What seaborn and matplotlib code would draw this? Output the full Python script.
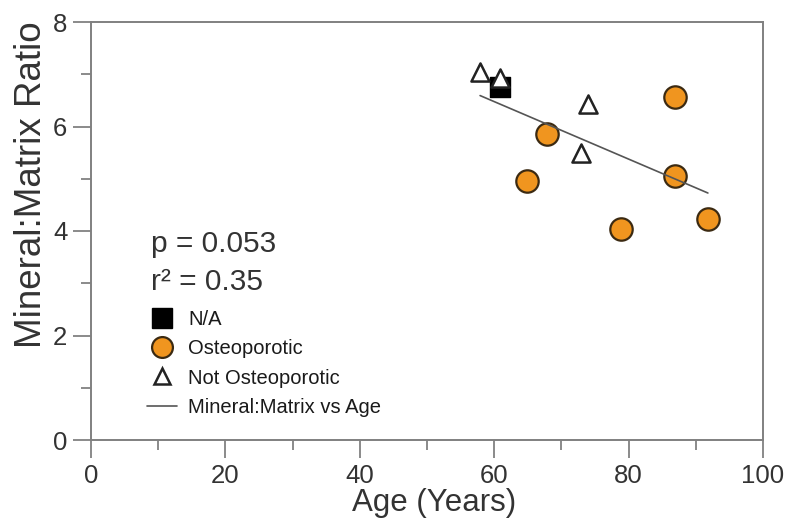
import numpy as np
import pandas as pd
import matplotlib
matplotlib.use("Agg")
import matplotlib.pyplot as plt
import seaborn as sns
from matplotlib.ticker import MultipleLocator
from matplotlib.lines import Line2D

# ---- data ----
na_age = [60.9]
na_ratio = [6.75]

osteo_age = [86.9, 67.9, 64.9, 86.9, 78.9, 91.8]
osteo_ratio = [6.56, 5.85, 4.95, 5.05, 4.03, 4.23]

notosteo_age = [57.9, 60.8, 74.0, 72.9]
notosteo_ratio = [7.04, 6.93, 6.44, 5.50]

p_text = "p = 0.053"
r2_text = "r\u00b2 = 0.35"
x_ticks = [0, 20, 40, 60, 80, 100]
y_ticks = [0, 2, 4, 6, 8]

sns.set_theme(style="white")
plt.rcParams["font.family"] = ["Liberation Sans", "DejaVu Sans"]

fig = plt.figure(figsize=(7.9, 5.23), dpi=100)
ax = fig.add_axes([91 / 790, 1 - 440 / 523, (763 - 91) / 790, (440 - 22) / 523])

all_age = na_age + osteo_age + notosteo_age
all_ratio = na_ratio + osteo_ratio + notosteo_ratio
df_all = pd.DataFrame({"age": all_age, "ratio": all_ratio})

sns.scatterplot(x=na_age, y=na_ratio, marker="s", s=215, color="black",
                edgecolor="black", linewidth=1, ax=ax, zorder=3)
sns.scatterplot(x=osteo_age, y=osteo_ratio, marker="o", s=260, color="#F0951F",
                edgecolor="#3b2a12", linewidth=1.6, ax=ax, zorder=3)
sns.regplot(data=df_all, x="age", y="ratio", scatter=False, ci=None, ax=ax,
            color="#555555", line_kws={"linewidth": 1.2, "zorder": 4})
sns.scatterplot(x=notosteo_age, y=notosteo_ratio, marker="^", s=170, color="white",
                edgecolor="#222222", linewidth=1.8, ax=ax, zorder=5)

handles = [
    Line2D([], [], marker="s", linestyle="none", markersize=14.5,
           markerfacecolor="black", markeredgecolor="black"),
    Line2D([], [], marker="o", linestyle="none", markersize=15,
           markerfacecolor="#F0951F", markeredgecolor="#3b2a12", markeredgewidth=1.6),
    Line2D([], [], marker="^", linestyle="none", markersize=12,
           markerfacecolor="white", markeredgecolor="#222222", markeredgewidth=1.8),
    Line2D([], [], color="#555555", linewidth=1.2),
]
labels = ["N/A", "Osteoporotic", "Not Osteoporotic", "Mineral:Matrix vs Age"]
leg = ax.legend(handles, labels, loc="upper left", bbox_to_anchor=(0.083, 0.312),
                frameon=False, fontsize=14.5, handlelength=1.5, handletextpad=0.55,
                labelspacing=0.52, borderpad=0, borderaxespad=0)
for t in leg.get_texts():
    t.set_color("#1a1a1a")

ax.text(0.09, 0.45, p_text, transform=ax.transAxes, fontsize=21.5,
        va="baseline", ha="left", color="#333333")
ax.text(0.09, 0.359, r2_text, transform=ax.transAxes, fontsize=21.5,
        va="baseline", ha="left", color="#333333")

ax.set_xlim(0, 100)
ax.set_ylim(0, 8)
ax.set_xticks(x_ticks)
ax.set_yticks(y_ticks)
ax.xaxis.set_minor_locator(MultipleLocator(10))
ax.yaxis.set_minor_locator(MultipleLocator(1))
ax.tick_params(which="major", direction="out", length=13, width=1.2,
               color="#777777", labelsize=18.5, labelcolor="#333333", pad=4,
               bottom=True, left=True)
ax.tick_params(which="minor", direction="out", length=7, width=1.2,
               color="#777777", bottom=True, left=True)

for sp in ax.spines.values():
    sp.set_visible(True)
    sp.set_color("#808080")
    sp.set_linewidth(1.4)

ax.set_xlabel("Age (Years)", fontsize=22.5, color="#333333")
ax.set_ylabel("Mineral:Matrix Ratio", fontsize=26.5, color="#333333")
ax.xaxis.set_label_coords(0.511, -0.114)
ax.yaxis.set_label_coords(-0.063, 0.61)
ax.grid(False)

fig.savefig("out.png", dpi=100, facecolor="white")
